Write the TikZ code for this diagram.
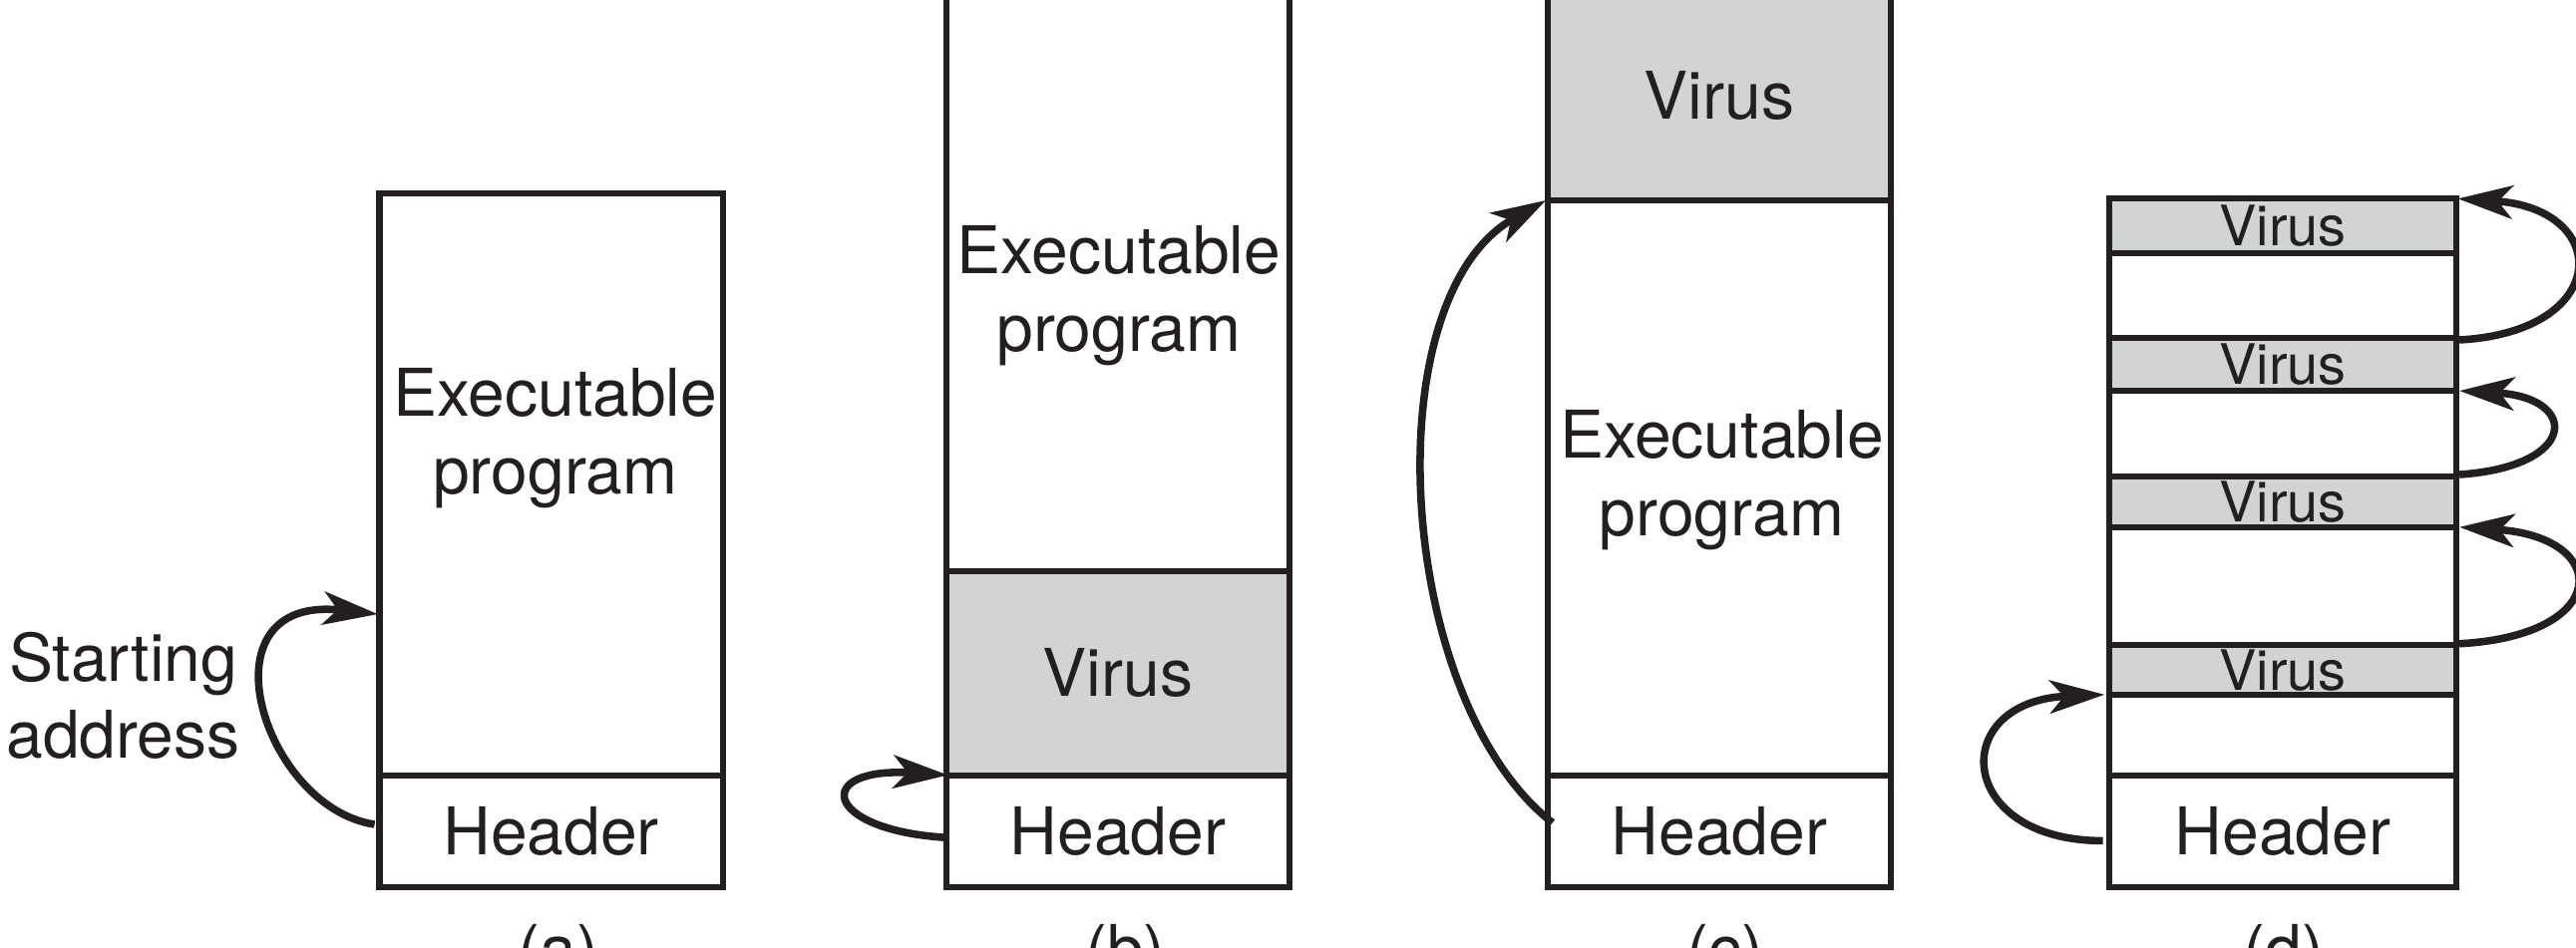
\documentclass[tikz,border=0pt]{standalone}
\usepackage{fontspec}
\setmainfont{TeX Gyre Heros}
\usetikzlibrary{arrows.meta, positioning}
\definecolor{VirusGray}{RGB}{209,211,212}
\definecolor{InkBlack}{RGB}{35,31,32}

\begin{document}
\begin{tikzpicture}[
    seg/.style={rectangle, draw=InkBlack, line width=2.1pt, minimum width=4.18cm, inner sep=0pt, outer sep=0pt, text=InkBlack, font=\fontsize{22.8}{26.8}\selectfont},
    virus/.style={seg, fill=VirusGray},
    gap/.style={seg, minimum width=4.22cm},
    slim/.style={gap, fill=VirusGray, font=\fontsize{19.3}{22}\selectfont},
    caption/.style={font=\fontsize{22.8}{26.8}\selectfont, text=InkBlack, align=center, inner sep=0pt},
    jump/.style={-{Stealth[length=19pt, width=11.5pt, inset=5pt]}, line width=2.6pt, draw=InkBlack}
  ]
  \useasboundingbox (0,0) rectangle (31.36,11.54);
  \clip (0,0) rectangle (31.36,11.54);

  % (a) plain program
  \node (hdrA) [seg, minimum height=1.36cm] at (6.71,1.42) {Header};
  \node (progA) [seg, minimum height=7.08cm, above=0pt of hdrA] {};
  \node (txtA) [caption] at (6.76,6.20) {Executable\\program};
  \node (startA) [caption] at (1.50,3.07) {Starting\\address};
  \node (capA) [caption, anchor=base] at (6.80,-0.30) {(a)};

  % (b) virus at the end
  \node (hdrB) [seg, minimum height=1.36cm] at (13.61,1.42) {Header};
  \node (virB) [virus, minimum height=2.48cm, above=0pt of hdrB] {Virus};
  \node (progB) [seg, minimum height=7.42cm, above=0pt of virB] {};
  \node (txtB) [caption] at (13.62,7.94) {Executable\\program};
  \node (capB) [caption, anchor=base] at (13.70,-0.30) {(b)};

  % (c) virus at the front
  \node (hdrC) [seg, minimum height=1.36cm] at (20.93,1.42) {Header};
  \node (progC) [seg, minimum height=7.00cm, above=0pt of hdrC] {};
  \node (virC) [virus, minimum height=2.56cm, above=0pt of progC] {Virus};
  \node (txtC) [caption] at (20.96,5.69) {Executable\\program};
  \node (capC) [caption, anchor=base] at (21.00,-0.30) {(c)};

  % (d) virus spread in the free spaces
  \node (hdrD) [gap, minimum height=1.36cm] at (27.79,1.42) {Header};
  \node (gapD1) [gap, minimum height=0.98cm, above=0pt of hdrD] {};
  \node (virD1) [slim, minimum height=0.60cm, above=0pt of gapD1] {Virus};
  \node (gapD2) [gap, minimum height=1.44cm, above=0pt of virD1] {};
  \node (virD2) [slim, minimum height=0.62cm, above=0pt of gapD2] {Virus};
  \node (gapD3) [gap, minimum height=1.04cm, above=0pt of virD2] {};
  \node (virD3) [slim, minimum height=0.64cm, above=0pt of gapD3] {Virus};
  \node (gapD4) [gap, minimum height=1.04cm, above=0pt of virD3] {};
  \node (virD4) [slim, minimum height=0.66cm, above=0pt of gapD4] {Virus};
  \node (capD) [caption, anchor=base] at (27.80,-0.30) {(d)};

  % arrow ends
  \coordinate (fromA) at (4.56,1.50);
  \coordinate (toA) at (4.60,4.06);
  \coordinate (fromB) at (11.50,1.34);
  \coordinate (toB) at (11.54,2.10);
  \coordinate (fromC) at (18.90,1.52);
  \coordinate (toC) at (18.82,9.10);
  \coordinate (fromD) at (25.60,1.30);
  \coordinate (toD) at (25.62,3.08);
  \coordinate (fromD1) at (29.94,3.70);
  \coordinate (toD1) at (29.94,5.12);
  \coordinate (fromD2) at (29.94,5.76);
  \coordinate (toD2) at (29.94,6.78);
  \coordinate (fromD3) at (29.94,7.40);
  \coordinate (toD3) at (29.92,9.12);

  \draw [jump] (fromA) .. controls (3.20,1.70) and (2.40,4.30) .. (toA);
  \draw [jump] (fromB) .. controls (10.00,1.44) and (9.90,2.20) .. (toB);
  \draw [jump] (fromC) .. controls (17.00,3.00) and (16.70,7.90) .. (toC);
  \draw [jump] (fromD) .. controls (23.80,1.30) and (23.70,3.00) .. (toD);
  \draw [jump] (fromD1) .. controls (31.80,3.80) and (31.80,5.00) .. (toD1);
  \draw [jump] (fromD2) .. controls (31.40,5.86) and (31.40,6.70) .. (toD2);
  \draw [jump] (fromD3) .. controls (31.80,7.50) and (31.80,9.00) .. (toD3);
\end{tikzpicture}
\end{document}
